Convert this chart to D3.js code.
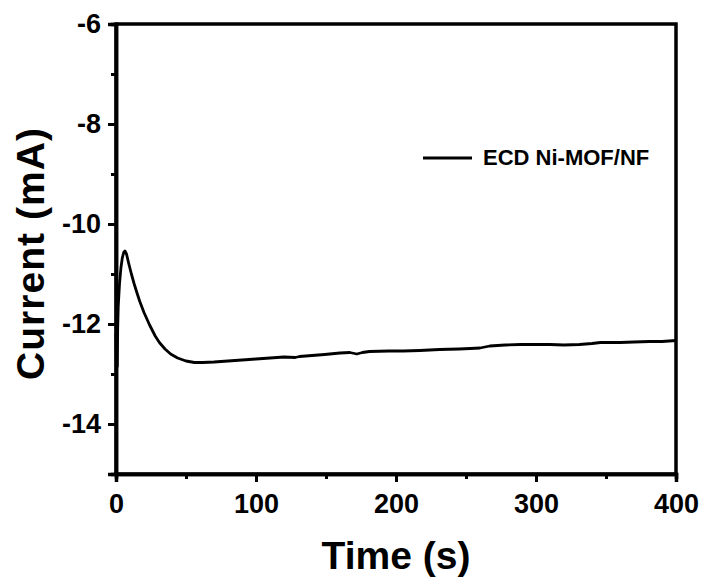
<!DOCTYPE html>
<html>
<head>
<meta charset="utf-8">
<script src="https://cdn.jsdelivr.net/npm/d3@7"></script>
<style>
	body { margin: 0; background: #fff; }
	text { font-family: "Liberation Sans", Arial, sans-serif; font-weight: bold; fill: #000; }
</style>
</head>
<body>
<div id="chart"></div>
<script>
// time (s) and current (mA)
var times = [0, 0.3, 0.6, 0.9, 1.2, 1.6, 2.5, 3.5, 4.5, 5.5, 6.4, 7.5, 9, 11, 13, 15, 17, 20, 24, 28, 31, 35, 39, 44, 50, 56, 62, 70, 80, 90, 100, 110, 120, 128, 131, 140, 149, 160, 167, 172, 176, 181, 195, 205, 217, 231, 245, 253, 260, 267, 278, 289, 300, 310, 320, 331, 340, 346, 360, 370, 381, 390, 400];
var currents = [-12.2, -12.9, -12.3, -12.85, -12.1, -11.65, -11.2, -10.88, -10.68, -10.57, -10.54, -10.6, -10.78, -11.0, -11.2, -11.38, -11.55, -11.77, -12.02, -12.24, -12.37, -12.5, -12.6, -12.68, -12.74, -12.77, -12.77, -12.76, -12.74, -12.72, -12.7, -12.68, -12.66, -12.67, -12.65, -12.63, -12.61, -12.58, -12.57, -12.6, -12.57, -12.55, -12.54, -12.54, -12.53, -12.51, -12.5, -12.49, -12.48, -12.44, -12.42, -12.41, -12.41, -12.41, -12.42, -12.41, -12.39, -12.37, -12.37, -12.36, -12.35, -12.35, -12.33];

var xTicks = [0, 100, 200, 300, 400];
var xMinor = [50, 150, 250, 350];
var yTicks = [-6, -8, -10, -12, -14];
var yMinor = [-7, -9, -11, -13, -15];
var seriesName = "ECD Ni-MOF/NF";

function chart() {
	var w = 707, h = 586;
	var margin = { left: 116, right: 676, top: 24, bottom: 474 };

	var svg = d3.select("#chart").append("svg")
		.attr("width", w)
		.attr("height", h);

	var x = d3.scaleLinear().domain([0, 400]).range([margin.left, margin.right]);
	var y = d3.scaleLinear().domain([-15, -6]).range([margin.bottom, margin.top]);

	//Data line
	var line = d3.line()
		.x(function (d) { return x(d[0]); })
		.y(function (d) { return y(d[1]); });

	svg.append("path")
		.datum(d3.zip(times, currents))
		.attr("d", line)
		.attr("fill", "none")
		.attr("stroke", "#000")
		.attr("stroke-width", 2.8)
		.attr("stroke-linejoin", "round");

	//Frame: top and right with no ticks
	svg.append("rect")
		.attr("x", margin.left)
		.attr("y", margin.top)
		.attr("width", margin.right - margin.left)
		.attr("height", margin.bottom - margin.top)
		.attr("fill", "none")
		.attr("stroke", "#000")
		.attr("stroke-width", 3.5);

	//X axis
	svg.append("g")
		.attr("transform", "translate(0," + margin.bottom + ")")
		.call(d3.axisBottom(x).tickValues(xTicks).tickSize(8).tickPadding(12).tickFormat(d3.format("d")));
	svg.append("g")
		.attr("transform", "translate(0," + margin.bottom + ")")
		.call(d3.axisBottom(x).tickValues(xMinor).tickSize(5).tickFormat(""));

	//Y axis
	svg.append("g")
		.attr("transform", "translate(" + margin.left + ",0)")
		.call(d3.axisLeft(y).tickValues(yTicks).tickSize(8).tickPadding(7).tickFormat(function (d) { return d; }));
	svg.append("g")
		.attr("transform", "translate(" + margin.left + ",0)")
		.call(d3.axisLeft(y).tickValues(yMinor).tickSize(5).tickFormat(""));

	svg.selectAll(".domain").attr("stroke-width", 3.5);
	svg.selectAll(".tick line").attr("stroke-width", 3);
	svg.selectAll(".tick text")
		.style("font-family", "'Liberation Sans', Arial, sans-serif")
		.style("font-weight", "bold")
		.style("font-size", "27px");

	//Axis titles
	svg.append("text")
		.attr("x", (margin.left + margin.right) / 2)
		.attr("y", 569)
		.attr("text-anchor", "middle")
		.style("font-size", "39px")
		.text("Time (s)");

	svg.append("text")
		.attr("transform", "translate(44,254) rotate(-90)")
		.attr("text-anchor", "middle")
		.style("font-size", "39px")
		.attr("textLength", 252)
		.text("Current (mA)");

	//Legend
	svg.append("line")
		.attr("x1", 423).attr("x2", 472)
		.attr("y1", 158).attr("y2", 158)
		.attr("stroke", "#000")
		.attr("stroke-width", 2.8);

	svg.append("text")
		.attr("x", 483)
		.attr("y", 165)
		.style("font-size", "22px")
		.text(seriesName);
}

chart();
</script>
</body>
</html>
